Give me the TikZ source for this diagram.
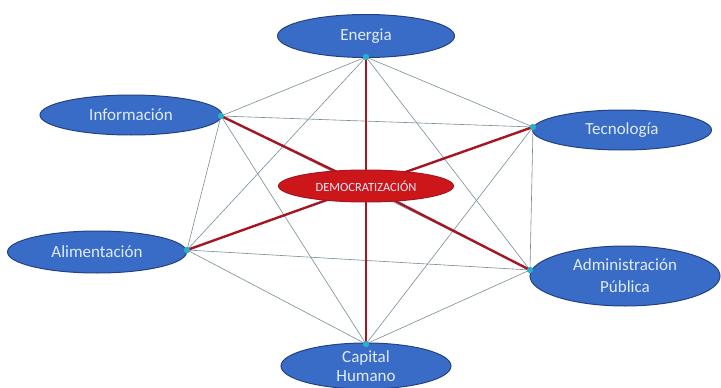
\documentclass[tikz,border=0pt]{standalone}
\usepackage{fontspec}
\setmainfont{Carlito}
\usetikzlibrary{shapes.geometric}
\definecolor{nodeblue}{RGB}{56,108,198}
\definecolor{nodeedge}{RGB}{36,66,130}
\definecolor{demred}{RGB}{204,22,26}
\definecolor{linkred}{RGB}{165,22,34}
\definecolor{linkgrey}{RGB}{120,140,150}
\definecolor{dotcyan}{RGB}{40,175,205}
\definecolor{textlight}{RGB}{225,235,252}
\begin{document}
\begin{tikzpicture}[x=1pt, y=-1pt,
    topic/.style={ellipse, draw=nodeedge, fill=nodeblue, line width=1pt, inner sep=0pt,
      text=textlight, align=center, font=\fontsize{17}{22}\selectfont},
    hub/.style={ellipse, draw=linkred, fill=demred, line width=1pt, inner sep=0pt,
      text=textlight, font=\fontsize{12.5}{12.5}\selectfont},
    joint/.style={circle, fill=dotcyan, inner sep=0pt, minimum size=6pt},
    thin/.style={draw=linkgrey, line width=0.6pt},
    thick/.style={draw=linkred, line width=2.4pt}]
      \useasboundingbox (0,0) rectangle (721,388);

      \node[topic, minimum width=177pt, minimum height=43pt] (energia) at (366,36) {Energia};
      \node[topic, minimum width=182pt, minimum height=40pt] (info) at (131,115) {Información};
      \node[topic, minimum width=179pt, minimum height=40pt] (tecno) at (622,130) {Tecnología};
      \node[topic, minimum width=179pt, minimum height=42pt] (alim) at (97,252) {Alimentación};
      \node[topic, minimum width=190pt, minimum height=60pt] (admin) at (625,276) {Administración\\ Pública};
      \node[topic, minimum width=170pt, minimum height=46pt,
            font=\fontsize{17}{19}\selectfont] (capital) at (366,366) {Capital\\ Humano};

      \node[joint] (je) at (366,57) {};
      \node[joint] (ji) at (221,116) {};
      \node[joint] (jt) at (533,127) {};
      \node[joint] (ja) at (187,250) {};
      \node[joint] (jd) at (530,270) {};
      \node[joint] (jc) at (366,344) {};

      \foreach \a/\b in {je/ji, je/jt, je/ja, je/jd, je/jc,
                         ji/jt, ji/ja, ji/jd, ji/jc,
                         jt/ja, jt/jd, jt/jc,
                         ja/jd, ja/jc, jd/jc}
        \draw[thin] (\a.center) -- (\b.center);

      \coordinate (mid) at (366,186);
      \foreach \j in {je, ji, jt, ja, jd, jc}
        \draw[thick] (mid) -- (\j.center);

      \node[hub, minimum width=175pt, minimum height=32pt] (demo) at (mid) {DEMOCRATIZACIÓN};

      \foreach \j in {je, ji, jt, ja, jd, jc}
        \node[joint] at (\j) {};
    \end{tikzpicture}
\end{document}
